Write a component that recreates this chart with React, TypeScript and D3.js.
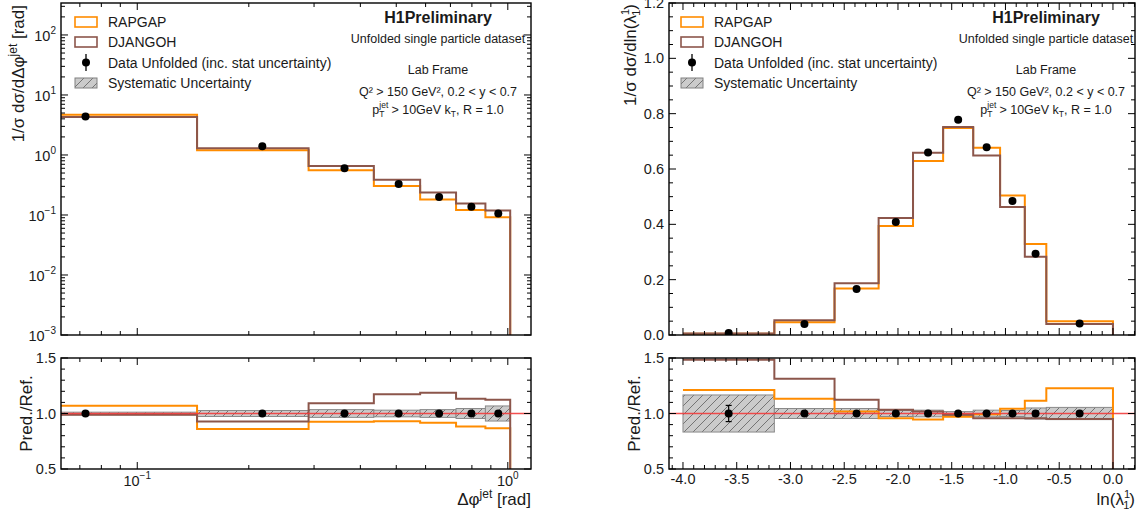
import React from 'react';
import * as d3 from 'd3';

// ---------------- Data ----------------
// Left: Δφ^jet [rad]
const dphiEdges = [0, 0.145, 0.29, 0.435, 0.58, 0.725, 0.87, 1.015];
const dphiData = [4.36, 1.395, 0.599, 0.328, 0.199, 0.137, 0.106];
const dphiRapgap = [4.66, 1.2, 0.554, 0.305, 0.182, 0.121, 0.092];
const dphiDjangoh = [4.31, 1.295, 0.655, 0.385, 0.236, 0.156, 0.119];
const dphiRatioRapgap = [1.069, 0.86, 0.925, 0.93, 0.916, 0.884, 0.866];
const dphiRatioDjangoh = [0.988, 0.928, 1.093, 1.173, 1.188, 1.134, 1.125];
const dphiSyst = [0.012, 0.027, 0.035, 0.03, 0.035, 0.045, 0.068];
const dphiStat = [0.004, 0.005, 0.005, 0.005, 0.005, 0.006, 0.008];

// Right: ln(λ_1^1)
const lamEdges = [-4.0, -3.15, -2.59, -2.18, -1.86, -1.58, -1.3, -1.05, -0.82, -0.62, 0.0];
const lamData = [0.007, 0.04, 0.166, 0.408, 0.66, 0.778, 0.679, 0.484, 0.294, 0.042];
const lamRapgap = [0.0045, 0.046, 0.168, 0.394, 0.629, 0.748, 0.677, 0.504, 0.329, 0.05];
const lamDjangoh = [0.0055, 0.053, 0.187, 0.423, 0.659, 0.752, 0.649, 0.463, 0.283, 0.04];
const lamRatioRapgap = [1.212, 1.133, 1.018, 0.958, 0.945, 0.97, 0.994, 1.042, 1.115, 1.227];
const lamRatioDjangoh = [1.485, 1.312, 1.124, 1.033, 1.018, 0.988, 0.958, 0.958, 0.958, 0.95];
const lamSyst = [0.167, 0.045, 0.045, 0.027, 0.03, 0.017, 0.03, 0.027, 0.05, 0.055];
const lamStat = [0.073, 0.012, 0.006, 0.005, 0.005, 0.005, 0.005, 0.006, 0.008, 0.015];

// Tick labels
const logXMajor = [0.1, 1];
const logXLabels = ['−1', '0'];
const logYMajor = [1e-3, 1e-2, 1e-1, 1, 10, 100];
const logYLabels = ['−3', '−2', '−1', '0', '1', '2'];
const linYMajor = [0, 0.2, 0.4, 0.6, 0.8, 1.0, 1.2];
const linYLabels = ['0.0', '0.2', '0.4', '0.6', '0.8', '1.0', '1.2'];
const lamXMajor = [-4.0, -3.5, -3.0, -2.5, -2.0, -1.5, -1.0, -0.5, 0.0];
const lamXLabels = ['-4.0', '-3.5', '-3.0', '-2.5', '-2.0', '-1.5', '-1.0', '-0.5', '0.0'];
const ratioMajor = [0.5, 1.0, 1.5];
const ratioLabels = ['0.5', '1.0', '1.5'];

const legendLabels = ['RAPGAP', 'DJANGOH', 'Data Unfolded (inc. stat uncertainty)', 'Systematic Uncertainty'];

// ---------------- Style ----------------
const FONT = "'Liberation Sans', Arial, Helvetica, sans-serif";
const ORANGE = '#ff8c00';
const BROWN = '#8c564b';
const RED = '#f23c3c';
const TXT = '#1a1a1a';
const TOP = { y0: 3, y1: 335 };
const RAT = { y0: 358, y1: 469 };
const LP = { x0: 61, x1: 531 };
const RP = { x0: 669, x1: 1135 };

const xL = d3.scaleLog().domain([0.06226, 1.155]).range([LP.x0, LP.x1]);
const yLtop = d3.scaleLog().domain([1e-3, 341]).range([TOP.y1, TOP.y0]);
const xR = d3.scaleLinear().domain([-4.13, 0.205]).range([RP.x0, RP.x1]);
const yRtop = d3.scaleLinear().domain([0, 1.2]).range([TOP.y1, TOP.y0]);
const yRat = d3.scaleLinear().domain([0.5, 1.5]).range([RAT.y1, RAT.y0]);

function stepPath(edges: number[], vals: number[], xs: (v: number) => number, ys: (v: number) => number, bottom: number) {
  let d = '';
  vals.forEach((v, i) => {
    const xa = xs(edges[i]);
    const xb = xs(edges[i + 1]);
    const y = ys(v);
    if (i === 0) d += `M${xa},${y}`;
    else d += `V${y}`;
    d += `H${xb}`;
  });
  d += `V${bottom}`;
  return d;
}

const safeLog = (v: number) => xL(Math.max(v, 0.03));

function Ticks({ x0, x1, y0, y1, xMajor, xMinor, yMajor, yMinor }: any) {
  const M = 7, m = 4;
  const lines: any[] = [];
  xMajor.forEach((x: number, i: number) => {
    lines.push(<line key={'xM' + i} x1={x} x2={x} y1={y1} y2={y1 - M} />);
    lines.push(<line key={'xMt' + i} x1={x} x2={x} y1={y0} y2={y0 + M} />);
  });
  xMinor.forEach((x: number, i: number) => {
    lines.push(<line key={'xm' + i} x1={x} x2={x} y1={y1} y2={y1 - m} />);
    lines.push(<line key={'xmt' + i} x1={x} x2={x} y1={y0} y2={y0 + m} />);
  });
  yMajor.forEach((y: number, i: number) => {
    lines.push(<line key={'yM' + i} x1={x0} x2={x0 + M} y1={y} y2={y} />);
    lines.push(<line key={'yMr' + i} x1={x1} x2={x1 - M} y1={y} y2={y} />);
  });
  yMinor.forEach((y: number, i: number) => {
    lines.push(<line key={'ym' + i} x1={x0} x2={x0 + m} y1={y} y2={y} />);
    lines.push(<line key={'ymr' + i} x1={x1} x2={x1 - m} y1={y} y2={y} />);
  });
  return (
    <g stroke="#000" strokeWidth={1}>
      {lines}
      <rect x={x0} y={y0} width={x1 - x0} height={y1 - y0} fill="none" strokeWidth={1.4} />
    </g>
  );
}

function Legend({ ox }: { ox: number }) {
  const bx = ox + 14;
  const tx = ox + 47;
  return (
    <g fontFamily={FONT} fontSize={14} fill={TXT}>
      <rect x={bx} y={17} width={22} height={10} fill="#fff" stroke={ORANGE} strokeWidth={1.6} />
      <text x={tx} y={27}>{legendLabels[0]}</text>
      <rect x={bx} y={37} width={22} height={10} fill="#fff" stroke={BROWN} strokeWidth={1.6} />
      <text x={tx} y={47}>{legendLabels[1]}</text>
      <line x1={bx + 11} x2={bx + 11} y1={54} y2={71} stroke="#000" strokeWidth={1.3} />
      <circle cx={bx + 11} cy={62.5} r={4} fill="#000" />
      <text x={tx} y={68}>{legendLabels[2]}</text>
      <rect x={bx} y={78} width={22} height={10} fill="url(#hatch)" stroke="#808080" strokeWidth={1} />
      <text x={tx} y={88}>{legendLabels[3]}</text>
    </g>
  );
}

function InfoText({ cx }: { cx: number }) {
  return (
    <g fontFamily={FONT} fill={TXT} textAnchor="middle">
      <text x={cx} y={23} fontSize={16} fontWeight="bold">H1Preliminary</text>
      <text x={cx} y={43} fontSize={12.5}>Unfolded single particle dataset</text>
      <text x={cx} y={74} fontSize={12.5}>Lab Frame</text>
      <text x={cx} y={96} fontSize={12.5}>Q² &gt; 150 GeV², 0.2 &lt; y &lt; 0.7</text>
      <text x={cx} y={114} fontSize={12.5}>
        p<tspan fontSize={8.5} dy={-6}>jet</tspan>
        <tspan fontSize={8.5} dx={-9} dy={9}>T</tspan>
        <tspan dx={3.5} dy={-3}> &gt; 10GeV k</tspan>
        <tspan fontSize={8.5} dy={3}>T</tspan>
        <tspan dy={-3}>, R = 1.0</tspan>
      </text>
    </g>
  );
}

function Band({ edges, syst, xs }: any) {
  return (
    <g>
      {syst.map((s: number, i: number) => {
        const xa = xs(edges[i]);
        const xb = xs(edges[i + 1]);
        return (
          <rect key={i} x={xa} y={yRat(1 + s)} width={xb - xa} height={yRat(1 - s) - yRat(1 + s)}
            fill="url(#hatch)" stroke="#8a8a8a" strokeWidth={1} />
        );
      })}
    </g>
  );
}

function Points({ edges, vals, stat, xs, ys, mid }: any) {
  return (
    <g>
      {vals.map((v: number, i: number) => {
        const cx = xs(mid(edges[i], edges[i + 1]));
        const s = stat[i];
        const lo = ys(v * (1 - s));
        const hi = ys(v * (1 + s));
        return (
          <g key={i}>
            <line x1={cx} x2={cx} y1={lo} y2={hi} stroke="#000" strokeWidth={1.2} />
            {s > 0.03 ? (
              <g stroke="#000" strokeWidth={1.2}>
                <line x1={cx - 3} x2={cx + 3} y1={lo} y2={lo} />
                <line x1={cx - 3} x2={cx + 3} y1={hi} y2={hi} />
              </g>
            ) : null}
            <circle cx={cx} cy={ys(v)} r={4} fill="#000" />
          </g>
        );
      })}
    </g>
  );
}

function RedLine({ x0, x1 }: { x0: number; x1: number }) {
  const y = yRat(1);
  return <path d={`M${x0},${y}H${x1}`} stroke={RED} strokeWidth={1.4} strokeOpacity={0.9} fill="none" />;
}

export default function App() {
  const arith = (a: number, b: number) => (a + b) / 2;
  const ones = (n: number) => new Array(n).fill(1);

  const lxMinor: number[] = [];
  [0.07, 0.08, 0.09, 0.2, 0.3, 0.4, 0.5, 0.6, 0.7, 0.8, 0.9].forEach((v) => lxMinor.push(xL(v)));
  const lyMinor: number[] = [];
  for (let d = -3; d <= 2; d++) for (let k = 2; k <= 9; k++) {
    const v = k * Math.pow(10, d);
    if (v < 341) lyMinor.push(yLtop(v));
  }
  const rxMinor: number[] = [];
  for (let i = -41; i <= 2; i++) if (i % 5 !== 0) rxMinor.push(xR(i / 10));
  const ryMinor: number[] = [];
  for (let i = 0; i <= 24; i++) if (i % 4 !== 0) ryMinor.push(yRtop(i * 0.05));
  const ratMinor: number[] = [];
  for (let i = 6; i <= 14; i++) if (i !== 10) ratMinor.push(yRat(i / 10));

  const supFs = 10;

  return (
    <svg width={1147} height={513} style={{ position: 'absolute', left: 0, top: 0, background: '#fff' }}
      xmlns="http://www.w3.org/2000/svg">
      <defs>
        <pattern id="hatch" patternUnits="userSpaceOnUse" width={9} height={9}>
          <rect width={9} height={9} fill="#cbcbcb" />
          <path d="M-2,2 L2,-2 M0,9 L9,0 M7,11 L11,7" stroke="#6a6a6a" strokeWidth={0.9} />
        </pattern>
        <clipPath id="cLT"><rect x={LP.x0} y={TOP.y0} width={LP.x1 - LP.x0} height={TOP.y1 - TOP.y0} /></clipPath>
        <clipPath id="cLR"><rect x={LP.x0} y={RAT.y0} width={LP.x1 - LP.x0} height={RAT.y1 - RAT.y0} /></clipPath>
        <clipPath id="cRT"><rect x={RP.x0} y={TOP.y0} width={RP.x1 - RP.x0} height={TOP.y1 - TOP.y0} /></clipPath>
        <clipPath id="cRR"><rect x={RP.x0} y={RAT.y0} width={RP.x1 - RP.x0} height={RAT.y1 - RAT.y0} /></clipPath>
      </defs>
      <rect width={1147} height={513} fill="#fff" />

      {/* ---------- Left top ---------- */}
      <g clipPath="url(#cLT)" fill="none">
        <path d={stepPath(dphiEdges, dphiRapgap, safeLog, yLtop, TOP.y1 + 5)} stroke={ORANGE} strokeWidth={2} />
        <path d={stepPath(dphiEdges, dphiDjangoh, safeLog, yLtop, TOP.y1 + 5)} stroke={BROWN} strokeWidth={2} />
      </g>
      <g clipPath="url(#cLT)">
        <Points edges={dphiEdges} vals={dphiData} stat={dphiStat} xs={xL} ys={yLtop} mid={arith} />
      </g>
      <Ticks x0={LP.x0} x1={LP.x1} y0={TOP.y0} y1={TOP.y1} xMajor={logXMajor.map((v) => xL(v))} xMinor={lxMinor}
        yMajor={logYMajor.map((v) => yLtop(v))} yMinor={lyMinor} />
      <Legend ox={LP.x0} />
      <InfoText cx={LP.x0 + 377} />

      {/* ---------- Left ratio ---------- */}
      <g clipPath="url(#cLR)">
        <Band edges={dphiEdges} syst={dphiSyst} xs={safeLog} />
        <path d={stepPath(dphiEdges, dphiRatioRapgap, safeLog, yRat, RAT.y1 + 5)} stroke={ORANGE} strokeWidth={2} fill="none" />
        <path d={stepPath(dphiEdges, dphiRatioDjangoh, safeLog, yRat, RAT.y1 + 5)} stroke={BROWN} strokeWidth={2} fill="none" />
        <RedLine x0={LP.x0} x1={LP.x1} />
        <Points edges={dphiEdges} vals={ones(7)} stat={dphiStat} xs={xL} ys={yRat} mid={arith} />
      </g>
      <Ticks x0={LP.x0} x1={LP.x1} y0={RAT.y0} y1={RAT.y1} xMajor={logXMajor.map((v) => xL(v))} xMinor={lxMinor}
        yMajor={ratioMajor.map((v) => yRat(v))} yMinor={ratMinor} />

      {/* ---------- Right top ---------- */}
      <g clipPath="url(#cRT)" fill="none">
        <path d={stepPath(lamEdges, lamRapgap, xR, yRtop, TOP.y1 + 5)} stroke={ORANGE} strokeWidth={2} />
        <path d={stepPath(lamEdges, lamDjangoh, xR, yRtop, TOP.y1 + 5)} stroke={BROWN} strokeWidth={2} />
      </g>
      <g clipPath="url(#cRT)">
        <Points edges={lamEdges} vals={lamData} stat={lamStat.map(() => 0.004)} xs={xR} ys={yRtop} mid={arith} />
      </g>
      <Ticks x0={RP.x0} x1={RP.x1} y0={TOP.y0} y1={TOP.y1} xMajor={lamXMajor.map((v) => xR(v))} xMinor={rxMinor}
        yMajor={linYMajor.map((v) => yRtop(v))} yMinor={ryMinor} />
      <Legend ox={RP.x0 - 2} />
      <InfoText cx={RP.x0 + 377} />

      {/* ---------- Right ratio ---------- */}
      <g clipPath="url(#cRR)">
        <Band edges={lamEdges} syst={lamSyst} xs={xR} />
        <path d={stepPath(lamEdges, lamRatioRapgap, xR, yRat, RAT.y1 + 5)} stroke={ORANGE} strokeWidth={2} fill="none" />
        <path d={stepPath(lamEdges, lamRatioDjangoh, xR, yRat, RAT.y1 + 5)} stroke={BROWN} strokeWidth={2} fill="none" />
        <RedLine x0={RP.x0} x1={RP.x1} />
        <Points edges={lamEdges} vals={ones(10)} stat={lamStat} xs={xR} ys={yRat} mid={arith} />
      </g>
      <Ticks x0={RP.x0} x1={RP.x1} y0={RAT.y0} y1={RAT.y1} xMajor={lamXMajor.map((v) => xR(v))} xMinor={rxMinor}
        yMajor={ratioMajor.map((v) => yRat(v))} yMinor={ratMinor} />

      {/* ---------- Tick labels ---------- */}
      <g fontFamily={FONT} fontSize={14.5} fill={TXT}>
        {logYMajor.map((v, i) => (
          <text key={'ly' + i} x={LP.x0 - 5} y={yLtop(v) + 6} textAnchor="end">
            10<tspan fontSize={supFs} dy={-7}>{logYLabels[i]}</tspan>
          </text>
        ))}
        {ratioMajor.map((v, i) => (
          <text key={'lr' + i} x={LP.x0 - 5} y={yRat(v) + 5} textAnchor="end">{ratioLabels[i]}</text>
        ))}
        {logXMajor.map((v, i) => (
          <text key={'lx' + i} x={xL(v)} y={RAT.y1 + 17} textAnchor="middle">
            10<tspan fontSize={supFs} dy={-7}>{logXLabels[i]}</tspan>
          </text>
        ))}
        {linYMajor.map((v, i) => (
          <text key={'ry' + i} x={RP.x0 - 5} y={yRtop(v) + 5} textAnchor="end">{linYLabels[i]}</text>
        ))}
        {ratioMajor.map((v, i) => (
          <text key={'rr' + i} x={RP.x0 - 5} y={yRat(v) + 5} textAnchor="end">{ratioLabels[i]}</text>
        ))}
        {lamXMajor.map((v, i) => (
          <text key={'rx' + i} x={xR(v)} y={RAT.y1 + 15} textAnchor="middle">{lamXLabels[i]}</text>
        ))}
      </g>

      {/* ---------- Axis titles ---------- */}
      <g fontFamily={FONT} fontSize={17} fill={TXT}>
        <text transform={`translate(24,5) rotate(-90)`} textAnchor="end">
          1/σ dσ/dΔφ<tspan fontSize={12} dy={-7}>jet</tspan><tspan dy={7}> [rad]</tspan>
        </text>
        <text transform={`translate(32,${(RAT.y0 + RAT.y1) / 2}) rotate(-90)`} textAnchor="middle">Pred./Ref.</text>
        <text x={LP.x1} y={505} textAnchor="end">
          Δφ<tspan fontSize={12} dy={-7}>jet</tspan><tspan dy={7}> [rad]</tspan>
        </text>

        <text transform={`translate(636,4) rotate(-90)`} textAnchor="end">
          1/σ dσ/dln(λ<tspan fontSize={11} dy={-7}>1</tspan><tspan fontSize={11} dx={-6.1} dy={11}>1</tspan><tspan dy={-4}>)</tspan>
        </text>
        <text transform={`translate(640,${(RAT.y0 + RAT.y1) / 2}) rotate(-90)`} textAnchor="middle">Pred./Ref.</text>
        <text x={RP.x1} y={505} textAnchor="end">
          ln(λ<tspan fontSize={11} dy={-7}>1</tspan><tspan fontSize={11} dx={-6.1} dy={11}>1</tspan><tspan dy={-4}>)</tspan>
        </text>
      </g>
    </svg>
  );
}
